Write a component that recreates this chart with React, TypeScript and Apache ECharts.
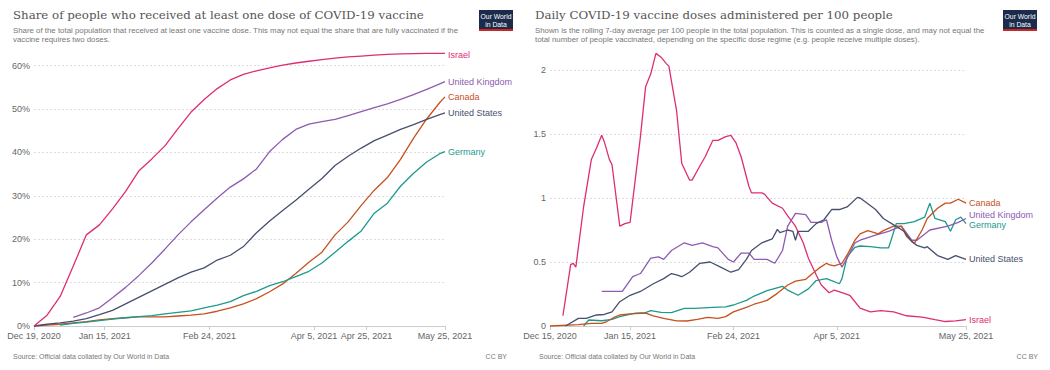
import React, { useEffect, useRef } from "react";
import * as echarts from "echarts";

// ---------- Left chart: share with at least one dose (%) ----------
const leftDates = [
  "2020-12-19", "2020-12-24", "2020-12-29", "2021-01-03", "2021-01-08", "2021-01-13",
  "2021-01-18", "2021-01-23", "2021-01-28", "2021-02-02", "2021-02-07", "2021-02-12",
  "2021-02-17", "2021-02-22", "2021-02-27", "2021-03-04", "2021-03-09", "2021-03-14",
  "2021-03-19", "2021-03-24", "2021-03-29", "2021-04-03", "2021-04-08", "2021-04-13",
  "2021-04-18", "2021-04-23", "2021-04-28", "2021-05-03", "2021-05-08", "2021-05-13",
  "2021-05-18", "2021-05-23", "2021-05-25",
];
const israelShare = [0, 2.5, 6.8, 13.8, 21.0, 23.3, 27, 31, 35.7, 38.5, 41.5, 45.5, 49.3, 52.2, 54.7, 56.7, 58, 58.8, 59.5, 60.1, 60.6, 61, 61.4, 61.7, 62, 62.2, 62.4, 62.6, 62.7, 62.75, 62.8, 62.8, 62.8];
const ukShare = [null, null, null, 2.0, 3.0, 4.2, 6.5, 8.9, 11.6, 14.5, 17.7, 21.0, 24.0, 26.8, 29.5, 32, 33.9, 36.2, 40.2, 43, 45.3, 46.5, 47.1, 47.6, 48.5, 49.4, 50.3, 51.2, 52.2, 53.3, 54.5, 55.8, 56.3];
const usShare = [0, 0.4, 0.7, 1.1, 1.7, 2.6, 3.6, 5.1, 6.6, 8.1, 9.6, 11.1, 12.4, 13.4, 15.2, 16.3, 18.3, 21.5, 24.2, 26.6, 29, 31.5, 34, 37, 39.1, 41, 42.7, 44, 45.3, 46.4, 47.6, 48.7, 49.1];
const canadaShare = [0, 0.2, 0.4, 0.7, 1.0, 1.4, 1.7, 1.9, 2.1, 2.1, 2.1, 2.3, 2.5, 2.8, 3.4, 4.2, 5.1, 6.3, 7.9, 9.7, 12.1, 14.7, 17, 21, 24, 27.8, 31.3, 34.2, 38.4, 43.3, 47.7, 51.5, 52.8];
const germanyShare = [null, null, 0.2, 0.6, 0.9, 1.25, 1.6, 1.9, 2.15, 2.4, 2.8, 3.15, 3.5, 4.2, 4.8, 5.6, 7.0, 8.0, 9.3, 10.2, 11.4, 12.6, 14.5, 17.0, 19.5, 21.9, 26.0, 28.3, 32.2, 35.2, 37.8, 39.7, 40.2];

const leftTickDates = ["2020-12-19", "2021-01-15", "2021-02-24", "2021-04-05", "2021-04-25", "2021-05-25"];
const leftTickLabels = ["Dec 19, 2020", "Jan 15, 2021", "Feb 24, 2021", "Apr 5, 2021", "Apr 25, 2021", "May 25, 2021"];

// ---------- Right chart: daily doses per 100 people ----------
const israelDaily: [string, number][] = [
  ["2020-12-20", 0.08], ["2020-12-23", 0.48], ["2020-12-24", 0.49], ["2020-12-25", 0.46], ["2020-12-28", 0.93],
  ["2020-12-31", 1.30], ["2021-01-02", 1.39], ["2021-01-04", 1.49], ["2021-01-05", 1.44], ["2021-01-07", 1.30],
  ["2021-01-08", 1.26], ["2021-01-11", 0.78], ["2021-01-13", 0.80], ["2021-01-15", 0.81], ["2021-01-19", 1.48],
  ["2021-01-21", 1.87], ["2021-01-23", 1.97], ["2021-01-25", 2.13], ["2021-01-27", 2.10], ["2021-01-29", 2.05],
  ["2021-01-30", 2.03], ["2021-02-02", 1.68], ["2021-02-04", 1.27], ["2021-02-07", 1.14], ["2021-02-08", 1.14],
  ["2021-02-11", 1.25], ["2021-02-13", 1.32], ["2021-02-16", 1.45], ["2021-02-18", 1.45], ["2021-02-21", 1.48],
  ["2021-02-23", 1.49], ["2021-02-25", 1.43], ["2021-02-27", 1.32], ["2021-03-02", 1.09], ["2021-03-03", 1.04],
  ["2021-03-07", 1.04], ["2021-03-08", 1.03], ["2021-03-11", 0.96], ["2021-03-15", 0.92], ["2021-03-17", 0.86],
  ["2021-03-20", 0.78], ["2021-03-23", 0.65], ["2021-03-25", 0.53], ["2021-03-28", 0.40], ["2021-03-30", 0.32],
  ["2021-04-02", 0.26], ["2021-04-04", 0.28], ["2021-04-07", 0.26], ["2021-04-10", 0.24], ["2021-04-14", 0.14],
  ["2021-04-18", 0.11], ["2021-04-22", 0.12], ["2021-04-27", 0.11], ["2021-05-02", 0.08], ["2021-05-08", 0.07],
  ["2021-05-13", 0.05], ["2021-05-17", 0.035], ["2021-05-21", 0.04], ["2021-05-25", 0.05],
];
const ukDaily: [string, number][] = [
  ["2021-01-04", 0.27], ["2021-01-12", 0.27], ["2021-01-16", 0.385], ["2021-01-19", 0.41], ["2021-01-23", 0.53],
  ["2021-01-26", 0.54], ["2021-01-28", 0.52], ["2021-01-31", 0.59], ["2021-02-05", 0.65], ["2021-02-08", 0.63],
  ["2021-02-12", 0.65], ["2021-02-16", 0.62], ["2021-02-18", 0.61], ["2021-02-22", 0.52], ["2021-02-24", 0.50],
  ["2021-02-27", 0.57], ["2021-03-02", 0.57], ["2021-03-04", 0.52], ["2021-03-09", 0.52], ["2021-03-12", 0.49],
  ["2021-03-15", 0.59], ["2021-03-17", 0.78], ["2021-03-20", 0.88], ["2021-03-24", 0.87], ["2021-03-26", 0.81],
  ["2021-03-30", 0.81], ["2021-04-01", 0.83], ["2021-04-03", 0.67], ["2021-04-05", 0.54], ["2021-04-07", 0.46],
  ["2021-04-09", 0.53], ["2021-04-12", 0.65], ["2021-04-14", 0.67], ["2021-04-20", 0.71], ["2021-04-25", 0.74],
  ["2021-04-30", 0.78], ["2021-05-04", 0.67], ["2021-05-06", 0.67], ["2021-05-11", 0.75], ["2021-05-18", 0.78],
  ["2021-05-22", 0.81], ["2021-05-25", 0.84],
];
const usDaily: [string, number][] = [
  ["2020-12-21", 0], ["2020-12-26", 0.06], ["2020-12-29", 0.06], ["2021-01-02", 0.086], ["2021-01-05", 0.09],
  ["2021-01-08", 0.11], ["2021-01-11", 0.19], ["2021-01-15", 0.24], ["2021-01-19", 0.27], ["2021-01-24", 0.33],
  ["2021-01-28", 0.37], ["2021-01-31", 0.41], ["2021-02-02", 0.40], ["2021-02-04", 0.385], ["2021-02-07", 0.42],
  ["2021-02-11", 0.49], ["2021-02-15", 0.50], ["2021-02-19", 0.46], ["2021-02-23", 0.42], ["2021-02-26", 0.44],
  ["2021-03-01", 0.52], ["2021-03-03", 0.59], ["2021-03-07", 0.65], ["2021-03-11", 0.68], ["2021-03-13", 0.755],
  ["2021-03-14", 0.73], ["2021-03-17", 0.75], ["2021-03-19", 0.74], ["2021-03-20", 0.67], ["2021-03-21", 0.74],
  ["2021-03-25", 0.74], ["2021-03-28", 0.80], ["2021-03-31", 0.83], ["2021-04-03", 0.91], ["2021-04-06", 0.91],
  ["2021-04-09", 0.93], ["2021-04-13", 1.005], ["2021-04-14", 1.0], ["2021-04-16", 0.97], ["2021-04-20", 0.91],
  ["2021-04-23", 0.84], ["2021-04-27", 0.79], ["2021-05-01", 0.74], ["2021-05-04", 0.66], ["2021-05-06", 0.63],
  ["2021-05-09", 0.61], ["2021-05-10", 0.62], ["2021-05-14", 0.55], ["2021-05-18", 0.52], ["2021-05-21", 0.55],
  ["2021-05-25", 0.52],
];
const canadaDaily: [string, number][] = [
  ["2020-12-15", 0], ["2020-12-26", 0.01], ["2020-12-31", 0.02], ["2021-01-04", 0.02], ["2021-01-06", 0.035],
  ["2021-01-09", 0.07], ["2021-01-11", 0.086], ["2021-01-15", 0.094], ["2021-01-21", 0.10], ["2021-01-24", 0.08],
  ["2021-01-28", 0.06], ["2021-02-02", 0.04], ["2021-02-06", 0.039], ["2021-02-10", 0.052], ["2021-02-14", 0.068],
  ["2021-02-18", 0.06], ["2021-02-21", 0.073], ["2021-02-24", 0.11], ["2021-03-01", 0.146], ["2021-03-04", 0.17],
  ["2021-03-09", 0.20], ["2021-03-13", 0.255], ["2021-03-17", 0.32], ["2021-03-20", 0.35], ["2021-03-24", 0.365],
  ["2021-03-26", 0.40], ["2021-03-29", 0.45], ["2021-04-01", 0.49], ["2021-04-02", 0.48], ["2021-04-04", 0.47],
  ["2021-04-07", 0.49], ["2021-04-09", 0.555], ["2021-04-12", 0.67], ["2021-04-14", 0.72], ["2021-04-17", 0.745],
  ["2021-04-18", 0.74], ["2021-04-21", 0.72], ["2021-04-23", 0.745], ["2021-04-27", 0.78], ["2021-04-30", 0.78],
  ["2021-05-02", 0.70], ["2021-05-05", 0.645], ["2021-05-08", 0.75], ["2021-05-10", 0.84], ["2021-05-14", 0.92],
  ["2021-05-17", 0.96], ["2021-05-19", 0.96], ["2021-05-22", 0.99], ["2021-05-25", 0.96],
];
const germanyDaily: [string, number][] = [
  ["2020-12-28", 0], ["2020-12-30", 0.047], ["2021-01-04", 0.041], ["2021-01-08", 0.052], ["2021-01-11", 0.073],
  ["2021-01-17", 0.10], ["2021-01-21", 0.104], ["2021-01-23", 0.12], ["2021-01-27", 0.107], ["2021-01-31", 0.104],
  ["2021-02-05", 0.138], ["2021-02-09", 0.138], ["2021-02-16", 0.146], ["2021-02-21", 0.15], ["2021-02-24", 0.164],
  ["2021-03-01", 0.20], ["2021-03-04", 0.234], ["2021-03-09", 0.276], ["2021-03-15", 0.31], ["2021-03-17", 0.28],
  ["2021-03-21", 0.24], ["2021-03-25", 0.29], ["2021-03-28", 0.355], ["2021-04-01", 0.37], ["2021-04-03", 0.355],
  ["2021-04-06", 0.33], ["2021-04-07", 0.37], ["2021-04-09", 0.54], ["2021-04-12", 0.615], ["2021-04-14", 0.625],
  ["2021-04-18", 0.62], ["2021-04-22", 0.61], ["2021-04-25", 0.61], ["2021-04-26", 0.67], ["2021-04-28", 0.80],
  ["2021-05-01", 0.80], ["2021-05-05", 0.815], ["2021-05-09", 0.85], ["2021-05-11", 0.96], ["2021-05-13", 0.84],
  ["2021-05-17", 0.815], ["2021-05-19", 0.74], ["2021-05-21", 0.83], ["2021-05-23", 0.85], ["2021-05-25", 0.80],
];

const rightTickDates = ["2020-12-15", "2021-01-15", "2021-02-24", "2021-04-05", "2021-05-25"];
const rightTickLabels = ["Dec 15, 2020", "Jan 15, 2021", "Feb 24, 2021", "Apr 5, 2021", "May 25, 2021"];

const leftYTicks = [0, 10, 20, 30, 40, 50, 60];
const rightYTicks = [0, 0.5, 1, 1.5, 2];

const COLORS = {
  Israel: "#dd2e74",
  "United Kingdom": "#8c5cb1",
  Canada: "#c6511f",
  "United States": "#46506e",
  Germany: "#1d9a8c",
};

const SANS = "'Liberation Sans', Arial, sans-serif";
const SERIF = "'DejaVu Serif', 'Liberation Serif', serif";

// calendar day -> day number (UTC-based, no time zone drift)
const dayNum = (d: string) => {
  const [y, m, dd] = d.split("-").map(Number);
  return Date.UTC(y, m - 1, dd) / 86400000;
};

function makeFormatter(dates: string[], labels: string[]) {
  const nums = dates.map(dayNum);
  return (v: number) => {
    const i = nums.findIndex((s) => Math.abs(s - v) < 0.5);
    return i >= 0 ? labels[i] : "";
  };
}

function logo(x: number) {
  return {
    type: "group",
    x,
    y: 10,
    children: [
      { type: "rect", shape: { x: 0, y: 0, width: 34, height: 21 }, style: { fill: "#1a2b4c" } },
      { type: "rect", shape: { x: 0, y: 19, width: 34, height: 2 }, style: { fill: "#ce261e" } },
      { type: "text", x: 17, y: 3, style: { text: "Our World", fill: "#fff", font: `6.8px ${SANS}`, align: "center", verticalAlign: "top" } },
      { type: "text", x: 17, y: 10.5, style: { text: "in Data", fill: "#fff", font: `6.8px ${SANS}`, align: "center", verticalAlign: "top" } },
    ],
  };
}

function txt(x: number, y: number, text: string, font: string, fill: string, align = "left") {
  return { type: "text", x, y, style: { text, font, fill, align, verticalAlign: "top" } };
}

export default function App() {
  const ref = useRef<HTMLDivElement>(null);
  useEffect(() => {
    document.body.style.margin = "0";
    const chart = echarts.init(ref.current!, null, { renderer: "svg" });

    const labelStyle = { color: "#666", fontSize: 9, fontFamily: SANS, margin: 5 };

    // main date axis: first tick label is shown by a companion axis (avoids min-label overlap pruning)
    const xAxisMain = (dates: string[], labels: string[], min: string, max: string, gridIndex: number) => {
      const vals = dates.map(dayNum);
      return {
        type: "value",
        gridIndex,
        min: dayNum(min),
        max: dayNum(max),
        axisLine: { show: true, lineStyle: { color: "#cccccc", width: 1 } },
        axisTick: { show: true, customValues: vals.slice(1), length: 4, lineStyle: { color: "#cccccc" } },
        axisLabel: {
          ...labelStyle,
          customValues: vals.slice(1),
          formatter: makeFormatter(dates, labels),
          hideOverlap: false,
          showMaxLabel: true,
        },
        splitLine: { show: false },
      };
    };
    const xAxisFirst = (dates: string[], labels: string[], min: string, max: string, gridIndex: number) => {
      const vals = dates.map(dayNum).slice(0, 1);
      return {
        type: "value",
        gridIndex,
        position: "bottom",
        offset: 0,
        min: dayNum(min),
        max: dayNum(max),
        axisLine: { show: false },
        axisTick: { show: true, customValues: vals, length: 4, lineStyle: { color: "#cccccc" } },
        axisLabel: { ...labelStyle, customValues: vals, formatter: makeFormatter(dates, labels), showMinLabel: true },
        splitLine: { show: false },
      };
    };

    const yAxisBase = (gridIndex: number, max: number, interval: number, fmt: (v: number) => string) => ({
      type: "value",
      gridIndex,
      min: 0,
      max,
      interval,
      axisLine: { show: false },
      axisTick: { show: false },
      axisLabel: { color: "#666", fontSize: 9, fontFamily: SANS, margin: 4, formatter: fmt },
      splitLine: { show: true, lineStyle: { color: "#dddddd", type: [2, 2], width: 1 } },
    });

    const lineSeries = (name: keyof typeof COLORS, data: any[], xi: number, yi: number, offset: number[] = [0, 0]) => ({
      type: "line",
      name,
      xAxisIndex: xi,
      yAxisIndex: yi,
      data,
      showSymbol: false,
      symbol: "none",
      clip: false,
      connectNulls: false,
      lineStyle: { color: COLORS[name], width: 1.3 },
      itemStyle: { color: COLORS[name] },
      endLabel: { show: true, formatter: "{a}", color: COLORS[name], fontSize: 9, fontFamily: SANS, distance: 3, offset },
      labelLayout: { hideOverlap: false },
      emphasis: { disabled: true },
    });

    const leftPairs = (vals: (number | null)[]) => leftDates.map((d, i) => [dayNum(d), vals[i]]);
    const pairs = (arr: [string, number][]) => arr.map(([d, v]) => [dayNum(d), v]);

    chart.setOption({
      animation: false,
      backgroundColor: "#ffffff",
      textStyle: { fontFamily: SANS },
      grid: [
        { left: 34, right: 605, top: 65.6, bottom: 44 },
        { left: 550, right: 84, top: 70, bottom: 44 },
      ],
      xAxis: [
        xAxisMain(leftTickDates, leftTickLabels, "2020-12-19", "2021-05-25", 0),
        xAxisMain(rightTickDates, rightTickLabels, "2020-12-15", "2021-05-25", 1),
        xAxisFirst(leftTickDates, leftTickLabels, "2020-12-19", "2021-05-25", 0),
        xAxisFirst(rightTickDates, rightTickLabels, "2020-12-15", "2021-05-25", 1),
      ],
      yAxis: [
        yAxisBase(0, leftYTicks[leftYTicks.length - 1], leftYTicks[1] - leftYTicks[0], (v) => `${v}%`),
        yAxisBase(1, rightYTicks[rightYTicks.length - 1], rightYTicks[1] - rightYTicks[0], (v) => `${v}`),
      ],
      series: [
        lineSeries("Canada", leftPairs(canadaShare), 0, 0),
        lineSeries("Germany", leftPairs(germanyShare), 0, 0),
        lineSeries("United States", leftPairs(usShare), 0, 0),
        lineSeries("United Kingdom", leftPairs(ukShare), 0, 0),
        lineSeries("Israel", leftPairs(israelShare), 0, 0, [0, 2]),
        lineSeries("Israel", pairs(israelDaily), 1, 1),
        lineSeries("Germany", pairs(germanyDaily), 1, 1, [0, 1]),
        lineSeries("United Kingdom", pairs(ukDaily), 1, 1, [0, -3]),
        lineSeries("Canada", pairs(canadaDaily), 1, 1),
        lineSeries("United States", pairs(usDaily), 1, 1),
      ],
      graphic: [
        txt(13, 9, "Share of people who received at least one dose of COVID-19 vaccine", `11.8px ${SERIF}`, "#555"),
        txt(13, 26, "Share of the total population that received at least one vaccine dose. This may not equal the share that are fully vaccinated if the", `7.85px ${SANS}`, "#777"),
        txt(13, 35.5, "vaccine requires two doses.", `7.85px ${SANS}`, "#777"),
        logo(479),
        txt(535, 9, "Daily COVID-19 vaccine doses administered per 100 people", `11.8px ${SERIF}`, "#555"),
        txt(535, 26, "Shown is the rolling 7-day average per 100 people in the total population. This is counted as a single dose, and may not equal the", `7.85px ${SANS}`, "#777"),
        txt(535, 35.5, "total number of people vaccinated, depending on the specific dose regime (e.g. people receive multiple doses).", `7.85px ${SANS}`, "#777"),
        logo(1003),
        txt(13, 353, "Source: Official data collated by Our World in Data", `7px ${SANS}`, "#777"),
        txt(507, 353, "CC BY", `7px ${SANS}`, "#777", "right"),
        txt(539, 353, "Source: Official data collated by Our World in Data", `7px ${SANS}`, "#777"),
        txt(1038, 353, "CC BY", `7px ${SANS}`, "#777", "right"),
      ],
    });
    return () => chart.dispose();
  }, []);
  return <div ref={ref} style={{ position: "absolute", left: 0, top: 0, width: 1050, height: 370 }} />;
}
